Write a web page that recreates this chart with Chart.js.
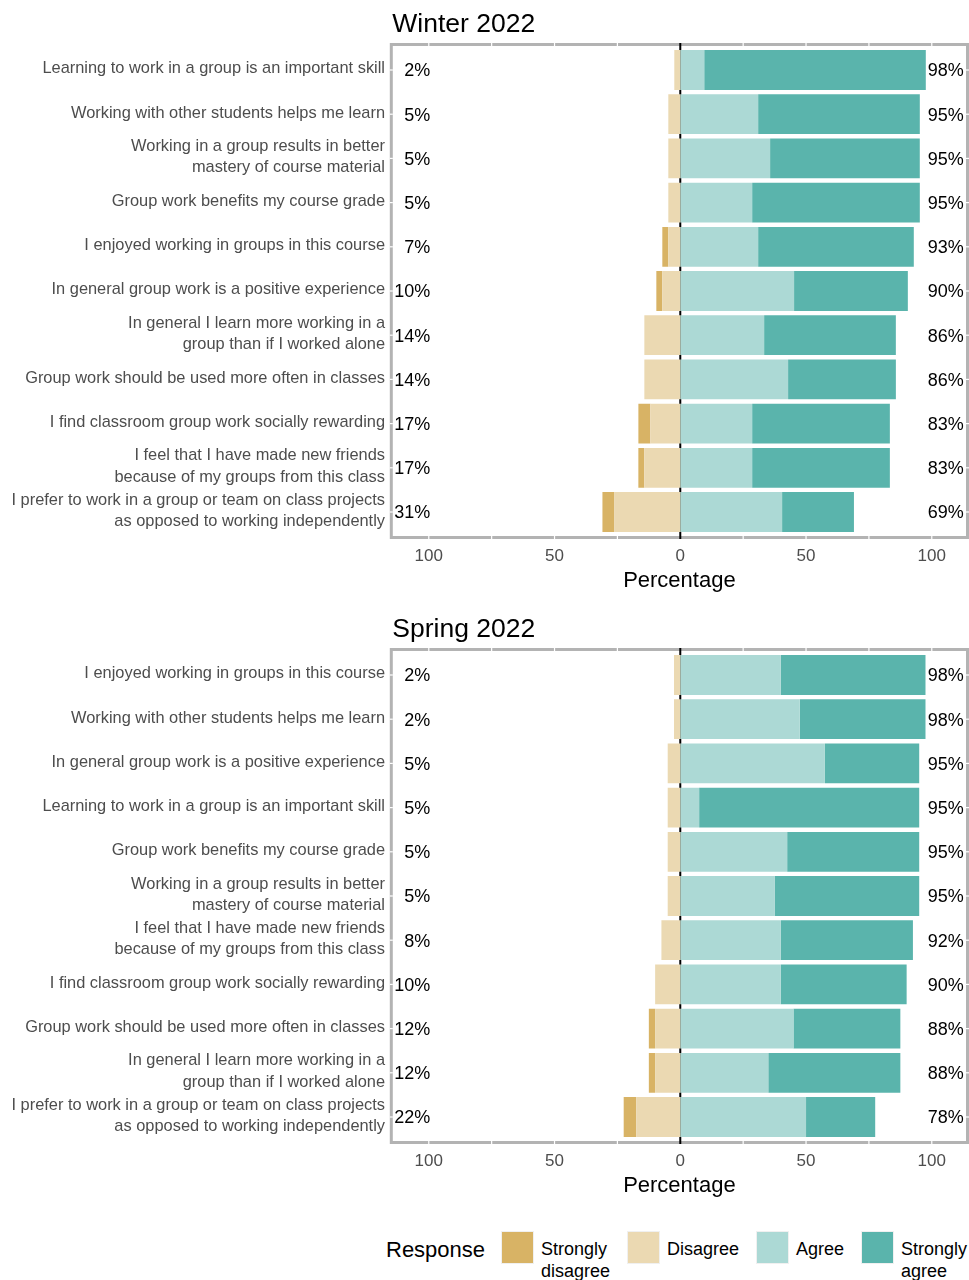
<!DOCTYPE html>
<html>
<head>
<meta charset="utf-8">
<script src="https://cdn.jsdelivr.net/npm/chart.js@4/dist/chart.umd.min.js"></script>
<style>
  body { margin: 0; background: #fff; font-family: "Liberation Sans", Arial, Helvetica, sans-serif; }
  #wrap { position: relative; width: 969px; height: 1280px; }
  canvas { position: absolute; left: 0; }
  .lg { position: absolute; white-space: nowrap; color: #000; }
  .lg-title { font-size: 22px; line-height: 26px; top: 1237px; left: 386px; }
  .lg-box { position: absolute; top: 1231px; width: 31px; height: 31px; border: 1px solid #f0f0f0; }
  .lg-text { font-size: 18px; line-height: 22px; top: 1238px; }
</style>
</head>
<body>
<div id="wrap">
  <canvas id="winter" width="969" height="605" style="top:0"></canvas>
  <canvas id="spring" width="969" height="605" style="top:605px"></canvas>

  <div class="lg lg-title">Response</div>
  <div class="lg-box" style="left:501px;background:#D8B365"></div>
  <div class="lg lg-text" style="left:541px">Strongly<br>disagree</div>
  <div class="lg-box" style="left:627px;background:#EBD9B2"></div>
  <div class="lg lg-text" style="left:667px">Disagree</div>
  <div class="lg-box" style="left:756px;background:#ACD9D5"></div>
  <div class="lg lg-text" style="left:796px">Agree</div>
  <div class="lg-box" style="left:861px;background:#5AB4AC"></div>
  <div class="lg lg-text" style="left:901px">Strongly<br>agree</div>
</div>

<script>
// --- Winter 2022 (percent of respondents) ---
const winterItems = [
  'Learning to work in a group is an important skill',
  'Working with other students helps me learn',
  ['Working in a group results in better', 'mastery of course material'],
  'Group work benefits my course grade',
  'I enjoyed working in groups in this course',
  'In general group work is a positive experience',
  ['In general I learn more working in a', 'group than if I worked alone'],
  'Group work should be used more often in classes',
  'I find classroom group work socially rewarding',
  ['I feel that I have made new friends', 'because of my groups from this class'],
  ['I prefer to work in a group or team on class projects', 'as opposed to working independently']
];
const winterStrDis = [0, 0, 0, 0, 2.38, 2.38, 0, 0, 4.76, 2.38, 4.76];
const winterDis    = [2.38, 4.76, 4.76, 4.76, 4.76, 7.14, 14.29, 14.29, 11.9, 14.29, 26.19];
const winterAgree  = [9.52, 30.95, 35.71, 28.57, 30.95, 45.24, 33.33, 42.86, 28.57, 28.57, 40.48];
const winterStrAg  = [88.1, 64.29, 59.52, 66.67, 61.9, 45.24, 52.38, 42.86, 54.76, 54.76, 28.57];
const winterLow  = ['2%', '5%', '5%', '5%', '7%', '10%', '14%', '14%', '17%', '17%', '31%'];
const winterHigh = ['98%', '95%', '95%', '95%', '93%', '90%', '86%', '86%', '83%', '83%', '69%'];

// --- Spring 2022 ---
const springItems = [
  'I enjoyed working in groups in this course',
  'Working with other students helps me learn',
  'In general group work is a positive experience',
  'Learning to work in a group is an important skill',
  'Group work benefits my course grade',
  ['Working in a group results in better', 'mastery of course material'],
  ['I feel that I have made new friends', 'because of my groups from this class'],
  'I find classroom group work socially rewarding',
  'Group work should be used more often in classes',
  ['In general I learn more working in a', 'group than if I worked alone'],
  ['I prefer to work in a group or team on class projects', 'as opposed to working independently']
];
const springStrDis = [0, 0, 0, 0, 0, 0, 0, 0, 2.5, 2.5, 5];
const springDis    = [2.5, 2.5, 5, 5, 5, 5, 7.5, 10, 10, 10, 17.5];
const springAgree  = [40, 47.5, 57.5, 7.5, 42.5, 37.5, 40, 40, 45, 35, 50];
const springStrAg  = [57.5, 50, 37.5, 87.5, 52.5, 57.5, 52.5, 50, 42.5, 52.5, 27.5];
const springLow  = ['2%', '2%', '5%', '5%', '5%', '5%', '8%', '10%', '12%', '12%', '22%'];
const springHigh = ['98%', '98%', '95%', '95%', '95%', '95%', '92%', '90%', '88%', '88%', '78%'];

const xTicks = [-100, -50, 0, 50, 100];
const gridMarks = [-100, -75, -50, -25, 25, 50, 75, 100];

const colors = {
  strDis: '#D8B365',
  dis: '#EBD9B2',
  agree: '#ACD9D5',
  strAg: '#5AB4AC'
};

const FONT = '"Liberation Sans", Arial, Helvetica, sans-serif';
Chart.defaults.font.family = FONT;

const EXT = 3.4; // panel border sits a little outside the category band

const panelDecor = {
  id: 'panelDecor',
  beforeDatasetsDraw(chart) {
    const {ctx, chartArea: a, scales: {x}} = chart;
    const x0 = x.getPixelForValue(0);
    ctx.save();
    ctx.strokeStyle = '#000';
    ctx.lineWidth = 2;
    ctx.beginPath();
    ctx.moveTo(x0, a.top - EXT);
    ctx.lineTo(x0, a.bottom + EXT);
    ctx.stroke();
    ctx.restore();
  },
  afterDatasetsDraw(chart, args, opts) {
    const {ctx, chartArea: a, scales: {x, y}} = chart;
    const top = a.top - EXT, bottom = a.bottom + EXT;
    ctx.save();

    // panel border
    ctx.strokeStyle = '#B3B3B3';
    ctx.lineWidth = 3;
    ctx.strokeRect(a.left, top, a.right - a.left, bottom - top);

    // white grid lines showing through the border
    ctx.fillStyle = '#fff';
    gridMarks.forEach(v => {
      const px = x.getPixelForValue(v);
      ctx.fillRect(px - 0.6, top - 1.5, 1.2, 3);
      ctx.fillRect(px - 0.6, bottom - 1.5, 1.2, 3);
    });
    chart.data.labels.forEach((l, i) => {
      const py = y.getPixelForValue(i);
      ctx.fillRect(a.left - 1.5, py - 0.6, 3, 1.2);
      ctx.fillRect(a.right - 1.5, py - 0.6, 3, 1.2);
    });
    const x0 = x.getPixelForValue(0);
    ctx.fillStyle = '#000';
    ctx.fillRect(x0 - 1, top - 1.5, 2, 3);
    ctx.fillRect(x0 - 1, bottom - 1.5, 2, 3);

    // percent labels
    ctx.font = '18px ' + FONT;
    ctx.fillStyle = '#000';
    ctx.textBaseline = 'alphabetic';
    opts.low.forEach((t, i) => {
      const py = y.getPixelForValue(i) + 6.4;
      ctx.textAlign = 'right';
      ctx.fillText(t, x.getPixelForValue(-99.4), py);
      ctx.textAlign = 'left';
      ctx.fillText(opts.high[i], x.getPixelForValue(98.4), py);
    });

    // panel title
    ctx.font = '26.5px ' + FONT;
    ctx.textAlign = 'left';
    ctx.fillText(opts.title, a.left + 1, 32);
    ctx.restore();
  }
};

function makeChart(id, title, items, sd, d, ag, sa, low, high) {
  return new Chart(document.getElementById(id), {
    type: 'bar',
    data: {
      labels: items,
      datasets: [
        { label: 'Disagree', data: d.map(v => -v), backgroundColor: colors.dis },
        { label: 'Strongly disagree', data: sd.map(v => -v), backgroundColor: colors.strDis },
        { label: 'Agree', data: ag, backgroundColor: colors.agree },
        { label: 'Strongly agree', data: sa, backgroundColor: colors.strAg }
      ]
    },
    options: {
      indexAxis: 'y',
      responsive: false,
      animation: false,
      events: [],
      layout: { padding: { top: 47.9, right: 1.5, bottom: 0, left: 0 } },
      datasets: { bar: { barPercentage: 0.9, categoryPercentage: 1.0, borderWidth: 0 } },
      scales: {
        x: {
          stacked: true,
          min: -114.9,
          max: 114.2,
          afterBuildTicks: s => { s.ticks = xTicks.map(v => ({ value: v })); },
          afterFit: s => { s.height = 70.9; },
          grid: { display: false, drawTicks: false },
          border: { display: false },
          ticks: {
            callback: v => Math.abs(v),
            color: '#4D4D4D',
            font: { size: 17 },
            padding: 12.5,
            maxRotation: 0,
            autoSkip: false
          },
          title: {
            display: true,
            text: 'Percentage',
            color: '#000',
            font: { size: 22 },
            padding: { top: 0, bottom: 10.9 }
          }
        },
        y: {
          stacked: true,
          afterFit: s => { s.width = 391.3; },
          grid: { display: false, drawTicks: false },
          border: { display: false },
          ticks: {
            color: '#4D4D4D',
            font: { size: 16.4, lineHeight: 1.31 },
            padding: 6.3,
            labelOffset: -1.2,
            autoSkip: false
          }
        }
      },
      plugins: {
        legend: { display: false },
        tooltip: { enabled: false },
        panelDecor: { title: title, low: low, high: high }
      }
    },
    plugins: [panelDecor]
  });
}

makeChart('winter', 'Winter 2022', winterItems, winterStrDis, winterDis, winterAgree, winterStrAg, winterLow, winterHigh);
makeChart('spring', 'Spring 2022', springItems, springStrDis, springDis, springAgree, springStrAg, springLow, springHigh);
</script>
</body>
</html>
